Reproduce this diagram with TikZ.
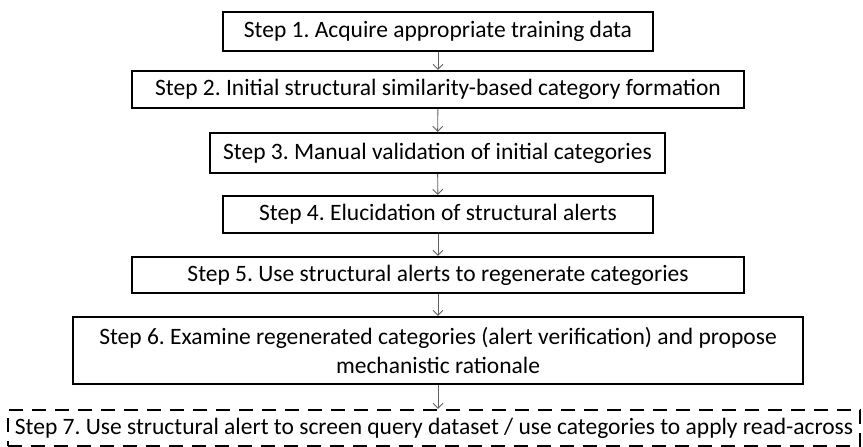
\documentclass[tikz,border=0pt]{standalone}
\usepackage{fontspec}
\setmainfont{Carlito}
\usepackage{tikz}
\usetikzlibrary{arrows.meta}
\frenchspacing

\begin{document}
\begin{tikzpicture}[x=1pt, y=-1pt, >={Straight Barb[length=5pt,width=10pt]}]

        % Styles
        \tikzset{
            stepbox/.style={draw=black, line width=2.2pt, align=center, inner sep=2pt, font=\fontsize{23.5}{29}\selectfont},
            querybox/.style={stepbox, dashed, dash pattern=on 14pt off 9pt},
            flow/.style={->, line width=0.9pt, gray!75!black}
        }

        \useasboundingbox (0,0) rectangle (863,447);

        % Steps
        \node[stepbox, minimum width=430pt, minimum height=39pt] (s1) at (438, 31.5) {Step 1. Acquire appropriate training data};
        \node[stepbox, minimum width=612pt, minimum height=37pt] (s2) at (438, 89.5) {Step 2. Initial structural similarity-based category formation};
        \node[stepbox, minimum width=455pt, minimum height=40pt] (s3) at (437.5, 153) {Step 3. Manual validation of initial categories};
        \node[stepbox, minimum width=430pt, minimum height=37pt] (s4) at (438, 214.5) {Step 4. Elucidation of structural alerts};
        \node[stepbox, minimum width=612pt, minimum height=36pt] (s5) at (438, 275) {Step 5. Use structural alerts to regenerate categories};
        \node[stepbox, minimum width=730pt, minimum height=67pt] (s6) at (438, 350.5) {Step 6. Examine regenerated categories (alert verification) and propose\\mechanistic rationale};
        \node[querybox, minimum width=852pt, minimum height=36pt] (s7) at (434, 428) {Step 7. Use structural alert to screen query dataset / use categories to apply read-across};

        % Arrows
        \draw[flow] (s1) -- (s2);
        \draw[flow] (s2) -- (s3);
        \draw[flow] (s3) -- (s4);
        \draw[flow] (s4) -- (s5);
        \draw[flow] (s5) -- (s6);
        \draw[flow] (s6.south) -- (s6.south |- s7.north);

\end{tikzpicture}
\end{document}
